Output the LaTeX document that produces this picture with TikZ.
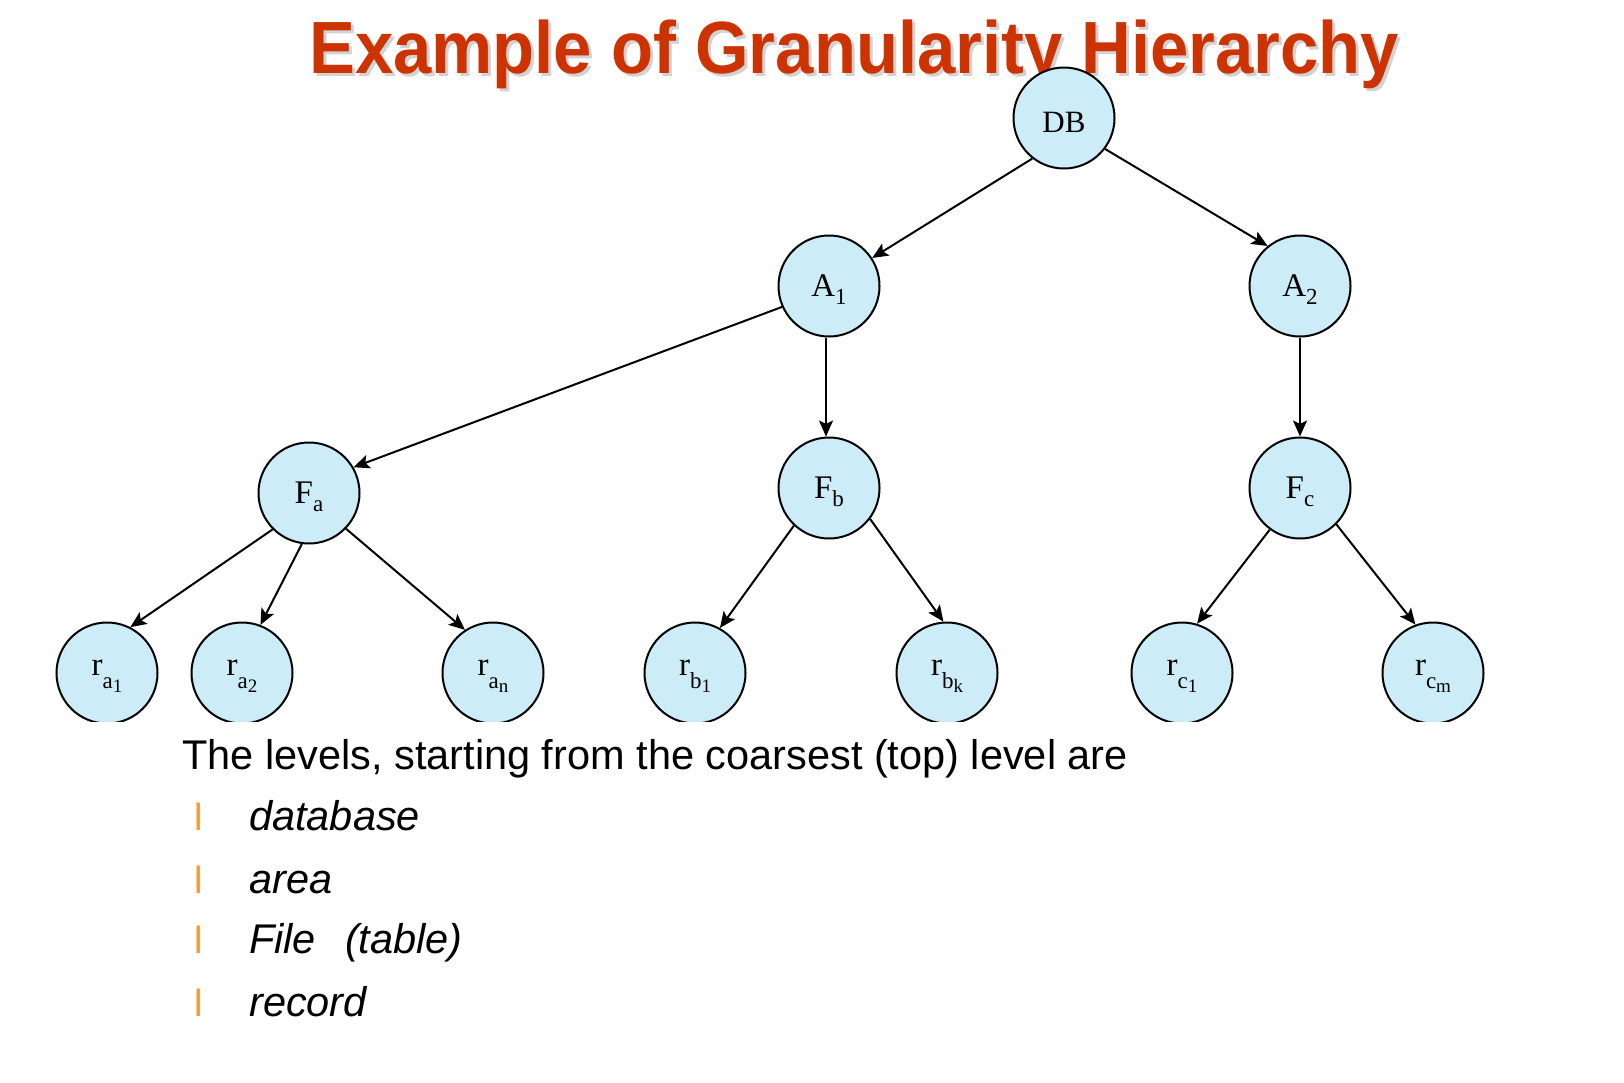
\documentclass[tikz,border=0pt]{standalone}
\usepackage{fontspec}
\newfontfamily\arialfont{Liberation Sans}
\newfontfamily\labelfont{Liberation Serif}
\usetikzlibrary{arrows.meta}
\definecolor{nodefill}{RGB}{204,237,248}
\definecolor{titlered}{RGB}{204,51,0}
\definecolor{bulletorange}{RGB}{247,155,55}
\newcommand{\nsub}[2]{#1\raisebox{-8pt}{\fontsize{23}{24}\selectfont #2}}
\newcommand{\nsubsub}[3]{#1\raisebox{-13pt}{\fontsize{23}{24}\selectfont #2\raisebox{-4pt}{\fontsize{19}{20}\selectfont #3}}}
\tikzset{
  treenode/.style={circle, draw=black, line width=2pt, fill=nodefill, minimum size=101pt, inner sep=0pt,
    font=\labelfont\fontsize{33}{36}\selectfont, text height=21pt, text depth=0pt},
  rootnode/.style={treenode, font=\labelfont\fontsize{31}{34}\selectfont, text height=28pt, text depth=0pt},
  leafnode/.style={treenode, text height=15pt, text depth=11pt},
  treeedge/.style={line width=2pt, -{Stealth[length=16pt,width=14pt,inset=3.5pt]}},
  bodytext/.style={anchor=base west, inner sep=0pt, font=\arialfont\fontsize{41.5}{48}\selectfont},
  itemtext/.style={anchor=base west, inner sep=0pt, font=\arialfont\itshape\fontsize{41.5}{48}\selectfont},
  bulletmark/.style={anchor=base west, inner sep=0pt, text=bulletorange, font=\arialfont\fontsize{38}{40}\selectfont}
}
\begin{document}
\begin{tikzpicture}[x=1pt,y=-1pt]
\useasboundingbox (0,0) rectangle (1624,1082);
\fill[white] (0,0) rectangle (1624,1082);
% title
\node[anchor=base west, inner sep=0pt, text=black!35, opacity=0.5, font=\arialfont\bfseries\fontsize{74}{80}\selectfont] (titleshadow) at (312,76) {\scalebox{0.93}[1]{Example of Granularity Hierarchy}};
\node[anchor=base west, inner sep=0pt, text=titlered, font=\arialfont\bfseries\fontsize{74}{80}\selectfont] (title) at (309,73) {\scalebox{0.93}[1]{Example of Granularity Hierarchy}};
% tree
\begin{scope}
\clip (0,0) rectangle (1486,721);
\node[rootnode] (DB) at (1064,118) {DB};
\node[treenode] (A1) at (829,286) {\nsub{A}{1}};
\node[treenode] (A2) at (1300,286) {\nsub{A}{2}};
\node[treenode] (Fa) at (309,493) {\nsub{F}{a}};
\node[treenode] (Fb) at (829,488) {\nsub{F}{b}};
\node[treenode] (Fc) at (1300,488) {\nsub{F}{c}};
\node[leafnode] (ra1) at (107,673) {\nsubsub{r}{a}{1}};
\node[leafnode] (ra2) at (242,673) {\nsubsub{r}{a}{2}};
\node[leafnode] (ran) at (493,673) {\nsubsub{r}{a}{n}};
\node[leafnode] (rb1) at (695,673) {\nsubsub{r}{b}{1}};
\node[leafnode] (rbk) at (947,673) {\nsubsub{r}{b}{k}};
\node[leafnode] (rc1) at (1182,673) {\nsubsub{r}{c}{1}};
\node[leafnode] (rcm) at (1433,673) {\nsubsub{r}{c}{m}};
\draw[treeedge] (DB.232) -- (A1.33);
\draw[treeedge] (DB.323) -- (A2.129);
\draw[treeedge] (A1.204) -- (Fa.30);
\draw[treeedge] ([xshift=-3pt]A1.south) -- ([xshift=-3pt]Fb.north);
\draw[treeedge] (A2.south) -- (Fc.north);
\draw[treeedge] (Fa.225) -- (ra1.63);
\draw[treeedge] (Fa.262) -- (ra2.69);
\draw[treeedge] (Fa.316) -- (ran.123);
\draw[treeedge] (Fb.227) -- (rb1.61);
\draw[treeedge] (Fb.323) -- (rbk.94);
\draw[treeedge] (Fc.234) -- (rc1.73);
\draw[treeedge] (Fc.315) -- (rcm.110);
\end{scope}
% text
\node[bodytext] (intro) at (182,769) {The levels, starting from the coarsest (top) level are};
\node[bulletmark] (b1) at (194,830) {l};
\node[bulletmark] (b2) at (194,893) {l};
\node[bulletmark] (b3) at (194,953) {l};
\node[bulletmark] (b4) at (194,1016) {l};
\node[itemtext] (i1) at (249,830) {database};
\node[itemtext] (i2) at (249,893) {area};
\node[itemtext] (i3) at (249,953) {File\hspace{29pt}(table)};
\node[itemtext] (i4) at (249,1016) {record};
\end{tikzpicture}
\end{document}
